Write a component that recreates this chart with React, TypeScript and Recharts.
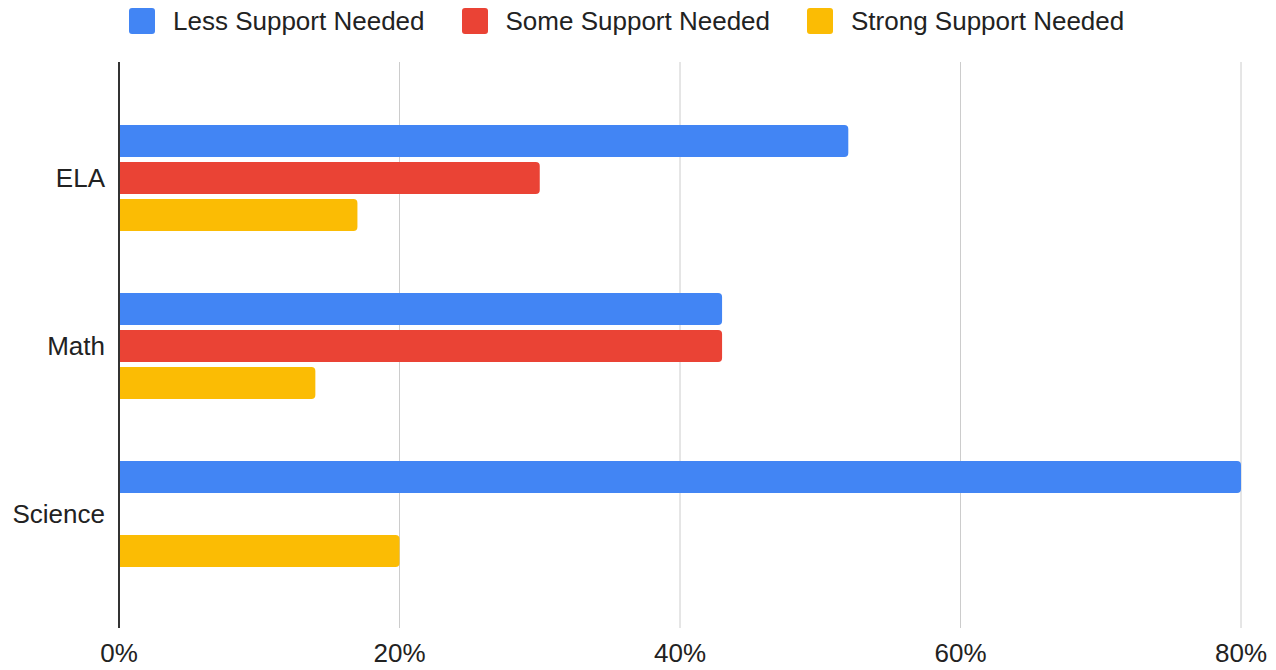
import { BarChart, Bar, XAxis, YAxis, CartesianGrid, Legend } from "recharts";

const subjects = ["ELA", "Math", "Science"];
const lessSupport = [0.52, 0.43, 0.8];
const someSupport = [0.3, 0.43, 0];
const strongSupport = [0.17, 0.14, 0.2];
const xTicks = [0, 0.2, 0.4, 0.6, 0.8];

const series = [
  { key: "less", name: "Less Support Needed", color: "#4285F4" },
  { key: "some", name: "Some Support Needed", color: "#EA4335" },
  { key: "strong", name: "Strong Support Needed", color: "#FBBC04" },
];

const data = subjects.map((name, i) => ({
  name,
  less: lessSupport[i],
  some: someSupport[i],
  strong: strongSupport[i],
}));

const font = "'Liberation Sans', Arial, sans-serif";

function LegendContent() {
  return (
    <div
      style={{
        height: 42,
        display: "flex",
        alignItems: "center",
        paddingLeft: 129,
        fontFamily: font,
        fontSize: 26,
        color: "#222",
        boxSizing: "border-box",
      }}
    >
      {series.map((s) => (
        <div key={s.key} style={{ display: "flex", alignItems: "center", marginRight: 37 }}>
          <span
            style={{
              width: 26,
              height: 26,
              borderRadius: 3,
              background: s.color,
              display: "inline-block",
              marginRight: 18,
            }}
          />
          <span>{s.name}</span>
        </div>
      ))}
    </div>
  );
}

export default function App() {
  return (
    <div style={{ position: "absolute", left: 0, top: 0, background: "#fff" }}>
      <BarChart
        width={1276}
        height={670}
        data={data}
        layout="vertical"
        margin={{ top: 20, right: 35, bottom: 0, left: 0 }}
        barSize={32}
        barGap={5}
      >
        <Legend
          verticalAlign="top"
          content={<LegendContent />}
          wrapperStyle={{ top: 0, left: 0, width: 1276 }}
        />
        <CartesianGrid horizontal={false} stroke="#cccccc" />
        <XAxis
          type="number"
          domain={[0, 0.8]}
          ticks={xTicks}
          tickFormatter={(v: number) => `${Math.round(v * 100)}%`}
          axisLine={false}
          tickLine={false}
          tickMargin={10}
          height={42}
          tick={{ fill: "#222", fontSize: 26, fontFamily: font }}
        />
        <YAxis
          type="category"
          dataKey="name"
          width={119}
          axisLine={{ stroke: "#333", strokeWidth: 2 }}
          tickLine={false}
          tickMargin={8}
          padding={{ top: 32, bottom: 30 }}
          tick={{ fill: "#222", fontSize: 26, fontFamily: font }}
        />
        {series.map((s) => (
          <Bar
            key={s.key}
            dataKey={s.key}
            name={s.name}
            fill={s.color}
            radius={[0, 4, 4, 0]}
            isAnimationActive={false}
          />
        ))}
      </BarChart>
    </div>
  );
}
